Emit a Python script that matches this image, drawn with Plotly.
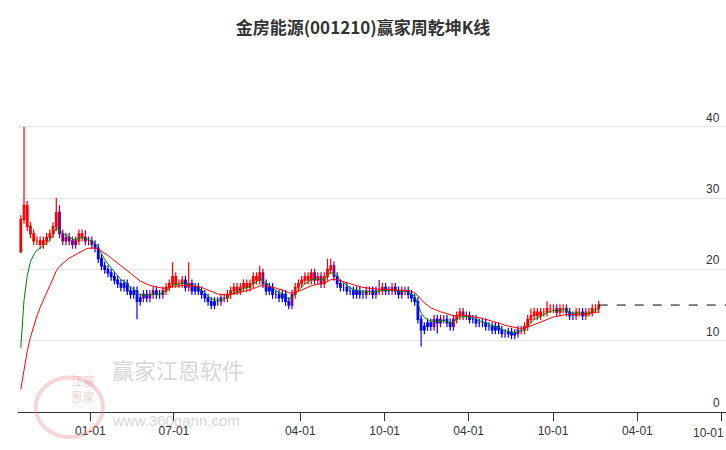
import plotly.graph_objects as go
import pandas as pd
import numpy as np

closes = [27, 29, 26, 25, 24, 24, 23.5, 24, 24.5, 25,
          26, 28, 25, 24, 24.5, 24, 23.5, 24, 25, 24.5,
          24, 24, 23.5, 23, 21.5, 20.5, 20, 19.5, 19, 18.5,
          18, 17.5, 18, 17, 16.5, 17, 15.5, 16, 16.5, 16,
          16.5, 17, 16.5, 16.5, 17, 17.5, 18, 19, 18, 18,
          18.5, 17.5, 18, 17, 17.5, 17, 16.5, 16, 15.5, 15,
          15.5, 15.5, 16, 16, 16.5, 17, 17.5, 17, 17.5, 18,
          17.5, 18, 19, 18.5, 19.5, 18, 17, 17.5, 16.5, 16.5,
          16, 16.5, 15.5, 15, 16.5, 17.5, 18, 18.5, 19, 18.5,
          19.5, 18.5, 19, 18, 19, 20, 20.5, 19, 18, 17.5,
          17.5, 17, 17, 16.5, 17, 16.5, 16.5, 17, 17, 16.5,
          17, 17, 17.5, 17, 17, 17.5, 17, 16.5, 17, 17,
          16.5, 16, 15.5, 13, 11.5, 12, 12.5, 12, 13, 12.5,
          13, 13, 12.5, 12, 13, 13.5, 14, 13.5, 13.5, 13,
          13, 12.5, 12.5, 12.5, 12, 12, 11.5, 12, 11.5, 11,
          11, 11.2, 10.8, 11, 11.5, 11.5, 12, 13, 13.5, 14,
          13.5, 14, 14, 14.5, 14.5, 14.5, 14, 14.5, 14.5, 14,
          13.5, 13.5, 14, 14, 13.5, 14, 14, 14.5, 14.5, 15]
first_open = 22.5
spike_highs = {1: 40, 11: 30, 12: 29, 20: 25.5, 47: 21, 52: 21, 74: 20.5, 95: 21.5, 96: 21.5, 111: 18.5, 158: 14.5, 163: 15.5}
spike_lows = {0: 22.3, 36: 13, 124: 9.2, 129: 11}
tick_dates = ["2021-01-01", "2021-07-01", "2022-04-01", "2022-10-01",
              "2023-04-01", "2023-10-01", "2024-04-01", "2024-10-01"]
tick_labels = ["01-01", "07-01", "04-01", "10-01", "04-01", "10-01", "04-01", "10-01"]
y_ticks = [0, 10, 20, 30, 40]

n = len(closes)
dates = pd.date_range("2020-08-03", periods=n, freq="7D")
c = np.array(closes, float)
o = np.concatenate([[first_open], c[:-1]])
hi = np.maximum(o, c) + 0.6
lo = np.minimum(o, c) - 0.6
for k, v in spike_highs.items(): hi[k] = v
for k, v in spike_lows.items(): lo[k] = v

s = pd.Series(np.concatenate([[0.0], c]))
ma_fast = s.ewm(span=5, adjust=False).mean().values[1:]
ma_slow = s.ewm(span=16, adjust=False).mean().values[1:]

cat = np.where((c > ma_fast) & (c > ma_slow), "r", np.where((c < ma_fast) & (c < ma_slow), "b", "p"))
colors = {"r": "#ff0000", "b": "#0000ff", "p": "#800080"}
x_end = pd.Timestamp("2024-10-10")

fig = go.Figure()
for k, col in colors.items():
    m = cat == k
    fig.add_trace(go.Candlestick(x=dates[m], open=o[m], high=hi[m], low=lo[m], close=c[m],
                                 increasing=dict(line=dict(color=col, width=1.2), fillcolor=col),
                                 decreasing=dict(line=dict(color=col, width=1.2), fillcolor=col),
                                 whiskerwidth=0, showlegend=False, hoverinfo="skip"))
fig.add_trace(go.Scatter(x=dates, y=ma_fast, mode="lines", line=dict(color="green", width=1), showlegend=False))
fig.add_trace(go.Scatter(x=dates, y=ma_slow, mode="lines", line=dict(color="red", width=1), showlegend=False))
fig.add_trace(go.Scatter(x=[dates[-1], x_end], y=[c[-1], c[-1]], mode="lines",
                         line=dict(color="black", width=1, dash="dash"), showlegend=False))

fig.update_layout(
    width=726, height=450, margin=dict(l=18, r=0, t=99, b=38),
    paper_bgcolor="white", plot_bgcolor="white",
    title=dict(text="<b>金房能源(001210)赢家周乾坤K线</b>", x=0.5, y=0.95, xanchor="center",
               font=dict(size=17, color="#333", family="Noto Sans CJK SC")),
    font=dict(family="Liberation Sans", size=12, color="#333"),
    xaxis=dict(range=[dates[0] - pd.Timedelta(days=6), x_end],
               rangeslider=dict(visible=False), tickvals=tick_dates,
               ticktext=tick_labels[:-1] + [""],
               showgrid=False, showline=True, linecolor="#333", ticks="outside", ticklen=8,
               tickcolor="#333"),
    yaxis=dict(range=[0, 43.9], tickvals=y_ticks, showticklabels=False,
               gridcolor="#e6e6e6", zeroline=False, showline=False),
)
fig.add_annotation(xref="paper", yref="paper", x=1.0, y=0, yshift=-12, xanchor="right", yanchor="top",
                   text=tick_labels[-1], showarrow=False, font=dict(size=12, color="#333"))
for v in y_ticks:
    fig.add_annotation(xref="paper", yref="y", x=0.995, y=v, xanchor="right", yanchor="bottom",
                       text=str(v), showarrow=False, font=dict(size=12, color="#333"))
fig.add_shape(type="circle", xref="paper", yref="paper", x0=0.025, x1=0.12, y0=-0.08, y1=0.11,
              line=dict(color="rgba(220,120,120,0.3)", width=4))
fig.add_annotation(xref="paper", yref="paper", x=0.072, y=0.015, text="江赢<br>恩家", showarrow=False,
                   font=dict(size=12, color="rgba(220,120,120,0.35)", family="Noto Sans CJK SC"))
fig.add_annotation(xref="paper", yref="paper", x=0.13, y=0.08, xanchor="left", text="赢家江恩软件", showarrow=False,
                   font=dict(size=22, color="rgba(150,150,150,0.4)", family="Noto Sans CJK SC"))
fig.add_annotation(xref="paper", yref="paper", x=0.13, y=-0.06, xanchor="left", text="www.360gann.com", showarrow=False,
                   font=dict(size=15, color="rgba(150,150,150,0.4)"))
fig.write_html("out.html", config={"displayModeBar": False})
with open("out.html", encoding="utf-8") as f:
    html = f.read()
html = html.replace("<body>", '<body style="margin:0;overflow:hidden">', 1)
with open("out.html", "w", encoding="utf-8") as f:
    f.write(html)
